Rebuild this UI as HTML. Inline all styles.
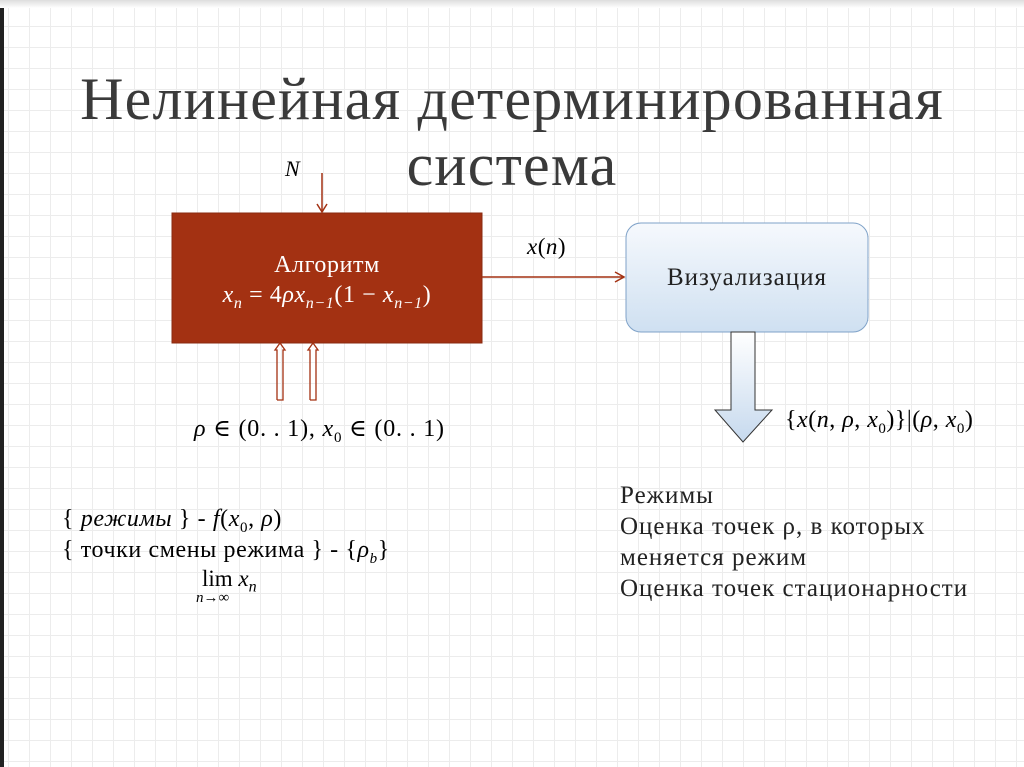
<!DOCTYPE html>
<html><head><meta charset="utf-8"><style>
body{margin:0;width:1024px;height:767px;overflow:hidden;background:#fff;font-family:"Liberation Serif","DejaVu Serif",serif;position:relative}
.grid{position:absolute;left:0;top:0;width:1024px;height:767px;background-image:linear-gradient(#ececec 1px,transparent 1px),linear-gradient(90deg,#ececec 1px,transparent 1px);background-size:21px 21px;background-position:8px 5px}
.t{position:absolute;white-space:nowrap}
i{font-style:italic}
sub{line-height:0}
</style></head><body>
<div class="grid"></div>
<div style="position:absolute;left:0;top:0;width:4px;height:767px;background:#222"></div>
<div style="position:absolute;left:0;top:0;width:1024px;height:8px;background:linear-gradient(#ddd,#fff)"></div>
<div class="t" style="left:0;width:1024px;text-align:center;top:66px;font-size:60px;letter-spacing:1.2px;color:#3a3a3a;line-height:66px">Нелинейная детерминированная<br>система</div>
<svg width="1024" height="767" style="position:absolute;left:0;top:0">
<defs><linearGradient id="g" x1="0" y1="0" x2="0" y2="1"><stop offset="0" stop-color="#f6f9fd"/><stop offset="1" stop-color="#cfe0f1"/></linearGradient>
<linearGradient id="g2" x1="0" y1="0" x2="0" y2="1"><stop offset="0" stop-color="#fff"/><stop offset="1" stop-color="#c6d9ee"/></linearGradient></defs>
<rect x="172" y="213" width="310" height="130" fill="#a33112" stroke="#8a2a10"/>
<rect x="626" y="223" width="242" height="109" rx="15" fill="url(#g)" stroke="#7fa2c8"/>
<line x1="322" y1="173" x2="322" y2="212" stroke="#a33112" stroke-width="1.5"/>
<polyline points="317,204 322,212 327,204" fill="none" stroke="#a33112" stroke-width="1.5"/>
<line x1="482" y1="277" x2="624" y2="277" stroke="#a33112" stroke-width="1.5"/>
<polyline points="615,272 624,277 615,282" fill="none" stroke="#a33112" stroke-width="1.5"/>
<g fill="none" stroke="#a33112" stroke-width="1.3">
<polyline points="277,400 277,350 275,350 280,343 285,350 283,350 283,400 277,400"/>
<polyline points="310,400 310,350 308,350 313,343 318,350 316,350 316,400 310,400"/>
</g>
<polygon points="731,332 755,332 755,410 772,410 743,442 715,410 731,410" fill="url(#g2)" stroke="#333" stroke-width="1"/>
</svg>
<div class="t" style="left:285px;top:156px;font-size:22px"><i>N</i></div>
<div class="t" style="left:172px;width:310px;text-align:center;top:250px;font-size:24px;letter-spacing:0.6px;color:#fff;line-height:30px">Алгоритм<br><i>x<sub style="font-size:16px">n</sub></i> = 4<i>ρx<sub style="font-size:16px">n−1</sub></i>(1 − <i>x<sub style="font-size:16px">n−1</sub></i>)</div>
<div class="t" style="left:527px;top:234px;font-size:23px;letter-spacing:0.5px"><i>x</i>(<i>n</i>)</div>
<div class="t" style="left:626px;width:242px;text-align:center;top:264px;font-size:25px;letter-spacing:1px;color:#222">Визуализация</div>
<div class="t" style="left:194px;top:414px;font-size:24px;letter-spacing:0.8px"><i>ρ</i> ∈ (0. . 1), <i>x</i><sub style="font-size:15px">0</sub> ∈ (0. . 1)</div>
<div class="t" style="left:785px;top:407px;font-size:24px;letter-spacing:0.5px">{<i>x</i>(<i>n</i>, <i>ρ</i>, <i>x</i><sub style="font-size:15px">0</sub>)}|(<i>ρ</i>, <i>x</i><sub style="font-size:15px">0</sub>)</div>
<div class="t" style="left:62px;top:504px;font-size:24px;letter-spacing:0.6px;line-height:31px">{ <i>режимы</i> } - <i>f</i>(<i>x</i><sub style="font-size:15px">0</sub>, <i>ρ</i>)<br>{ точки смены режима } - {<i>ρ<sub style="font-size:15px">b</sub></i>}</div>
<div class="t" style="left:202px;top:566px;font-size:23px">lim <i>x<sub style="font-size:16px">n</sub></i></div>
<div class="t" style="left:196px;top:590px;font-size:15px"><i>n</i>→∞</div>
<div class="t" style="left:620px;top:480px;font-size:25px;letter-spacing:1px;line-height:31px;color:#222">Режимы<br>Оценка точек ρ, в которых<br>меняется режим<br>Оценка точек стационарности</div>
</body></html>
